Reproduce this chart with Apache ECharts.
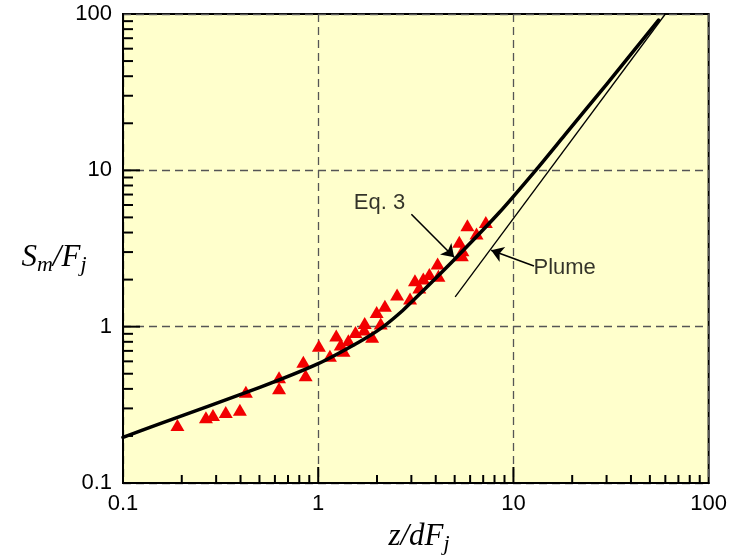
<!DOCTYPE html>
<html><head><meta charset="utf-8">
<script src="https://cdn.jsdelivr.net/npm/echarts@6/dist/echarts.min.js"></script>
<style>html,body{margin:0;padding:0;background:#fff}#c{width:730px;height:556px}</style>
</head><body><div id="c"></div>
<script>
// ---- data ----
const xTickValues = [0.1, 1, 10, 100];
const xTickLabels = ['0.1', '1', '10', '100'];
const yTickValues = [0.1, 1, 10, 100];
const yTickLabels = ['0.1', '1', '10', '100'];
const xMinorTicks = [0.2,0.3,0.4,0.5,0.6,0.7,0.8,0.9,2,3,4,5,6,7,8,9,20,30,40,50,60,70,80,90];
const yMinorTicks = [0.2,0.3,0.4,0.5,0.6,0.7,0.8,0.9,2,3,4,5,6,7,8,9,20,30,40,50,60,70,80,90];
const majorTicks = [1, 10];

// Eq. 3 curve
const eqX = [0.1, 0.155, 0.502, 1.0, 1.62, 2.12, 2.71, 3.30, 4.97, 8.44, 13.0, 18.3, 30.0, 55.4];
const eqY = [0.196, 0.240, 0.409, 0.58, 0.798, 0.986, 1.27, 1.61, 2.68, 5.35, 10, 16.8, 35.5, 91.5];
// Plume line
const plumeX = [5.03, 60.0];
const plumeY = [1.55, 100];
// measured data (triangles)
const dataX = [0.190,0.266,0.289,0.336,0.397,0.426,0.630,0.630,0.839,0.862,1.008,1.148,1.237,1.304,1.348,1.427,1.552,1.730,1.720,1.889,1.992,2.09,2.196,2.535,2.954,3.13,3.295,3.454,3.71,4.09,4.13,5.28,5.48,5.44,5.81,6.47,7.22];
const dataY = [0.235,0.263,0.272,0.285,0.294,0.383,0.474,0.404,0.596,0.489,0.755,0.651,0.879,0.769,0.702,0.818,0.925,1.056,0.958,0.863,1.242,1.047,1.36,1.607,1.513,1.98,1.78,2.03,2.17,2.54,2.12,3.49,3.08,2.86,4.46,3.95,4.68];
// annotations
const noteText = ['Eq. 3', 'Plume'];
const noteX = [2.06, 18.3];
const noteY = [6.17, 2.37];
const arrowFrom = [[3.0, 5.24], [12.74, 2.44]];
const arrowTo = [[4.97, 2.78], [7.69, 3.08]];

const AX_MIN = 0.1, AX_MAX = 100;
const SANS = "'Liberation Sans', Arial, sans-serif";
const SERIF = "'Liberation Serif', 'Times New Roman', serif";

function fmt(vals, labels) {
  return function (v) {
    const i = vals.findIndex(t => Math.abs(Math.log10(t) - Math.log10(v)) < 1e-6);
    return i >= 0 ? labels[i] : '';
  };
}

// tick descriptors: [x, y, kind] kind: 1 x-minor, 2 x-major, 3 y-minor, 4 y-major
const tickData = [];
xMinorTicks.forEach(v => tickData.push([v, AX_MIN, 1]));
majorTicks.forEach(v => tickData.push([v, AX_MIN, 2]));
yMinorTicks.forEach(v => tickData.push([AX_MIN, v, 3]));
majorTicks.forEach(v => tickData.push([AX_MIN, v, 4]));

const chart = echarts.init(document.getElementById('c'), null, {renderer: 'canvas'});
const axisCommon = {
  type: 'log', logBase: 10, min: AX_MIN, max: AX_MAX,
  axisLine: {show: true, lineStyle: {color: '#000', width: 2}},
  axisTick: {show: false},
  minorTick: {show: false},
  splitLine: {show: true, lineStyle: {color: '#555', width: 1.3, type: [8, 5]}},
};
const richTitle = {
  a: {fontSize: 31, fontStyle: 'italic', fontFamily: SERIF, lineHeight: 36, fill: '#000', color: '#000'},
  b: {fontSize: 22, fontStyle: 'italic', fontFamily: SERIF, lineHeight: 22, padding: [14, 0, 0, 0], fill: '#000', color: '#000'}
};
chart.setOption({
  animation: false,
  backgroundColor: '#fff',
  grid: {left: 123, right: 19, top: 14, bottom: 73, show: true, backgroundColor: '#FFFFCC', borderColor: '#000', borderWidth: 2},
  xAxis: Object.assign({}, axisCommon, {
    axisLabel: {margin: 10, fontSize: 22, color: '#000', fontFamily: SANS, formatter: fmt(xTickValues, xTickLabels), showMinLabel: true, showMaxLabel: true}
  }),
  yAxis: Object.assign({}, axisCommon, {
    axisLabel: {margin: 11, fontSize: 22, color: '#000', fontFamily: SANS, formatter: fmt(yTickValues, yTickLabels), showMinLabel: true, showMaxLabel: true}
  }),
  graphic: [
    {type: 'text', x: 54, y: 258, z: 10, style: {
      text: '{a|S}{b|m}{a|/F}{b|j}', align: 'center', verticalAlign: 'middle', rich: richTitle}},
    {type: 'text', x: 419, y: 537, z: 10, style: {
      text: '{a|z/dF}{b|j}', align: 'center', verticalAlign: 'middle', rich: richTitle}}
  ],
  series: [
    {
      type: 'custom', name: 'ticks', data: tickData, clip: false, silent: true, z: 5,
      renderItem: function (params, api) {
        const p = api.coord([api.value(0), api.value(1)]);
        const k = api.value(2);
        let x2 = p[0], y2 = p[1];
        if (k === 1) y2 = p[1] - 8;
        else if (k === 2) y2 = p[1] - 16;
        else if (k === 3) x2 = p[0] + 10;
        else x2 = p[0] + 17;
        return {type: 'line', shape: {x1: p[0], y1: p[1], x2: x2, y2: y2}, style: {stroke: '#000', lineWidth: 2}};
      }
    },
    {
      type: 'scatter', name: 'data', symbol: 'triangle', symbolSize: [14, 12], z: 3,
      itemStyle: {color: '#F20000', opacity: 1},
      data: dataX.map((x, i) => [x, dataY[i]])
    },
    {
      type: 'line', name: 'Eq. 3', smooth: 0.2, showSymbol: false, symbol: 'none', z: 4,
      lineStyle: {color: '#000', width: 3.5, join: 'round', cap: 'round'},
      data: eqX.map((x, i) => [x, eqY[i]])
    },
    {
      type: 'line', name: 'Plume', showSymbol: false, symbol: 'none', z: 4,
      lineStyle: {color: '#000', width: 1.3},
      data: plumeX.map((x, i) => [x, plumeY[i]]),
      markLine: {
        silent: true, symbol: 'arrow', symbolSize: 12, precision: 6,
        lineStyle: {color: '#000', width: 1.6, type: 'solid'},
        label: {show: false},
        data: arrowFrom.map((f, i) => [{coord: f, symbol: 'none'}, {coord: arrowTo[i], symbol: 'arrow', symbolSize: 12}])
      }
    },
    {
      type: 'scatter', name: 'notes', symbolSize: 0, z: 6, silent: true,
      data: noteX.map((x, i) => ({value: [x, noteY[i]], name: noteText[i]})),
      label: {show: true, position: 'inside', formatter: '{b}', fontSize: 22, color: '#000', fontFamily: SANS}
    }
  ]
});
</script></body></html>
